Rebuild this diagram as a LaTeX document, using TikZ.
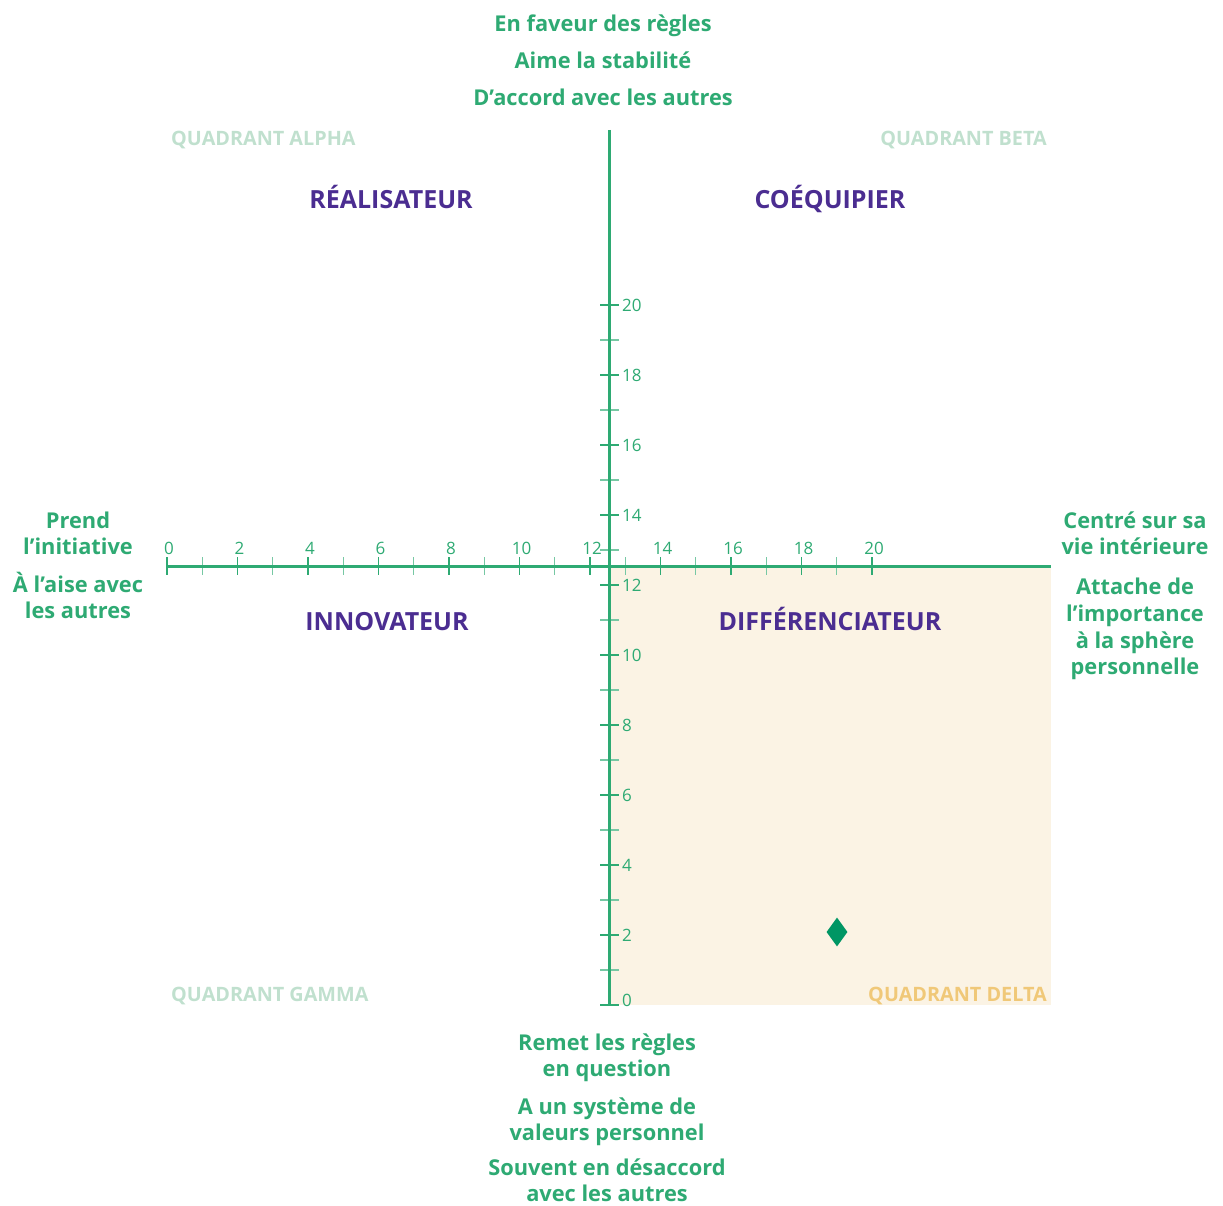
\documentclass[tikz,border=0pt]{standalone}
\usepackage{fontspec}
\setmainfont{Open Sans}
\usepackage{tikz}
\usetikzlibrary{shapes.geometric}
\definecolor{qvert}{RGB}{46,170,115}
\definecolor{qvertfonce}{RGB}{0,150,100}
\definecolor{qviolet}{RGB}{75,45,145}
\definecolor{qpale}{RGB}{192,224,206}
\definecolor{qorange}{RGB}{240,200,120}
\definecolor{qbeige}{RGB}{251,243,228}

\begin{document}
\begin{tikzpicture}[x=1pt,y=-1pt,
	txt/.style={text=qvert,font=\bfseries\fontsize{21.8}{26}\selectfont,align=center,inner sep=0pt},
	role/.style={text=qviolet,font=\bfseries\fontsize{25}{29}\selectfont,inner sep=0pt,anchor=base},
	quad/.style={text=qpale,font=\bfseries\fontsize{19.8}{23}\selectfont,inner sep=0pt},
	num/.style={text=qvert,font=\fontsize{17}{19}\selectfont,inner sep=0pt},
	axe/.style={qvert,line width=3pt},
	tick/.style={qvert,line width=1.4pt},
	tickpale/.style={qvert!65,line width=1.4pt}]
	\useasboundingbox (0,0) rectangle (1223,1206);
	\coordinate (hg) at (167,566);
	\coordinate (hd) at (1051,566);
	\coordinate (vh) at (609,130);
	\coordinate (vb) at (609,1005);
	\fill[qbeige] (hg -| vb) rectangle (hd |- vb);
	\foreach \i in {1,3,...,19} {
		\draw[tickpale] ({167+35.25*\i},557) -- ({167+35.25*\i},575);
		\draw[tickpale] (600,{1005-35*\i}) -- (619,{1005-35*\i});
	}
	\foreach \i in {0,2,...,20} {
		\draw[tick] ({167+35.25*\i},557) -- ({167+35.25*\i},575);
		\draw[tick] (600,{1005-35*\i}) -- (619,{1005-35*\i});
		\node[num,anchor=base] (h\i) at ({169+35.25*\i},554) {\i};
	}
	\foreach \i in {2,4,...,20}
		\node[num,anchor=west] (v\i) at (622,{1005-35*\i}) {\i};
	\node[num,anchor=west] (v0) at (622,1000) {0};
	\draw[axe] (hg) -- (hd);
	\draw[axe] (vh) -- (vb);
	\node[diamond,fill=qvertfonce,inner sep=0pt,minimum width=21pt,minimum height=29pt] (point) at (837,932) {};

	\node[txt,anchor=base] (haut1) at (603,32) {En faveur des règles};
	\node[txt,anchor=base] (haut2) at (603,69) {Aime la stabilité};
	\node[txt,anchor=base] (haut3) at (603,106) {D’accord avec les autres};

	\node[txt] (gauche1) at (78,533) {Prend\\l’initiative};
	\node[txt] (gauche2) at (78,595) {À l’aise avec\\les autres};
	\node[txt] (droite1) at (1135,533) {Centré sur sa\\vie intérieure};
	\node[txt,font=\bfseries\fontsize{21.8}{26.7}\selectfont] (droite2) at (1135,629) {Attache de\\l’importance\\à la sphère\\personnelle};

	\node[txt] (bas1) at (607,1058) {Remet les règles\\en question};
	\node[txt] (bas2) at (607,1122) {A un système de\\valeurs personnel};
	\node[txt] (bas3) at (607,1180) {Souvent en désaccord\\avec les autres};

	\node[role] (realisateur) at (391,209) {RÉALISATEUR};
	\node[role] (coequipier) at (830,209) {COÉQUIPIER};
	\node[role] (innovateur) at (387,630) {INNOVATEUR};
	\node[role] (differenciateur) at (830,630) {DIFFÉRENCIATEUR};

	\node[quad,anchor=base west] (alpha) at (171,146) {QUADRANT ALPHA};
	\node[quad,anchor=base east] (beta) at (1047,146) {QUADRANT BETA};
	\node[quad,anchor=base west] (gamma) at (171,1001) {QUADRANT GAMMA};
	\node[quad,anchor=base east,text=qorange] (delta) at (1047,1001) {QUADRANT DELTA};
\end{tikzpicture}
\end{document}
